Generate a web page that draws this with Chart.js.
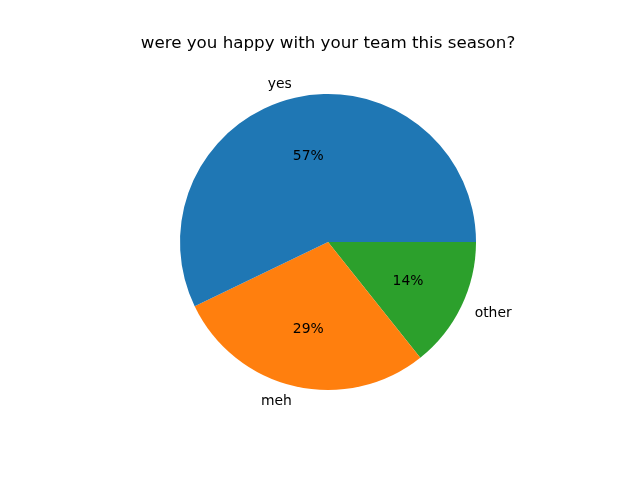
<!DOCTYPE html>
<html>
<head>
<meta charset="utf-8">
<script src="https://cdn.jsdelivr.net/npm/chart.js@4"></script>
<style>
  html, body { margin: 0; padding: 0; background: #fff; }
  #wrap { width: 640px; height: 480px; }
</style>
</head>
<body>
<div id="wrap"><canvas id="pieChart" width="640" height="480"></canvas></div>
<script>
// Data (listed clockwise from 3 o'clock, so the picture matches a counter-clockwise pie)
const categories = ['other', 'meh', 'yes'];
const values = [1, 2, 4];
const sliceColors = ['#2ca02c', '#ff7f0e', '#1f77b4'];
const titleText = 'were you happy with your team this season?';

const FONT = "'DejaVu Sans', sans-serif";

// Title + outside labels + percentages inside each slice
const sliceLabels = {
    id: 'sliceLabels',
    afterDatasetsDraw(chart) {
        const ctx = chart.ctx;
        const meta = chart.getDatasetMeta(0);
        const total = values.reduce((a, b) => a + b, 0);
        ctx.save();
        ctx.fillStyle = '#000';
        ctx.textBaseline = 'middle';

        // title, centred over the pie
        ctx.font = '16.7px ' + FONT;
        ctx.textAlign = 'center';
        ctx.fillText(titleText, (chart.chartArea.left + chart.chartArea.right) / 2, 44);

        ctx.font = '13.9px ' + FONT;
        meta.data.forEach((arc, i) => {
            const p = arc.getProps(['x', 'y', 'startAngle', 'endAngle', 'outerRadius'], true);
            const mid = (p.startAngle + p.endAngle) / 2;
            const cx = Math.cos(mid), cy = Math.sin(mid);
            // label at 1.1 r
            ctx.textAlign = cx >= 0 ? 'left' : 'right';
            ctx.fillText(categories[i], p.x + cx * p.outerRadius * 1.1, p.y + cy * p.outerRadius * 1.1 + 1);
            // percentage at 0.6 r
            ctx.textAlign = 'center';
            const pct = Math.round(values[i] / total * 100) + '%';
            ctx.fillText(pct, p.x + cx * p.outerRadius * 0.6, p.y + cy * p.outerRadius * 0.6 + 1);
        });
        ctx.restore();
    }
};

const pieCtx = document.getElementById('pieChart').getContext('2d');
new Chart(pieCtx, {
    type: 'pie',
    data: {
        labels: categories,
        datasets: [{
            data: values,
            backgroundColor: sliceColors,
            borderWidth: 0,
            hoverOffset: 0,
            offset: 0
        }]
    },
    options: {
        responsive: false,
        animation: false,
        rotation: 90,
        layout: { padding: { top: 94, bottom: 90, left: 180, right: 164 } },
        plugins: {
            legend: { display: false },
            tooltip: { enabled: false },
            title: { display: false }
        }
    },
    plugins: [sliceLabels]
});
</script>
</body>
</html>
